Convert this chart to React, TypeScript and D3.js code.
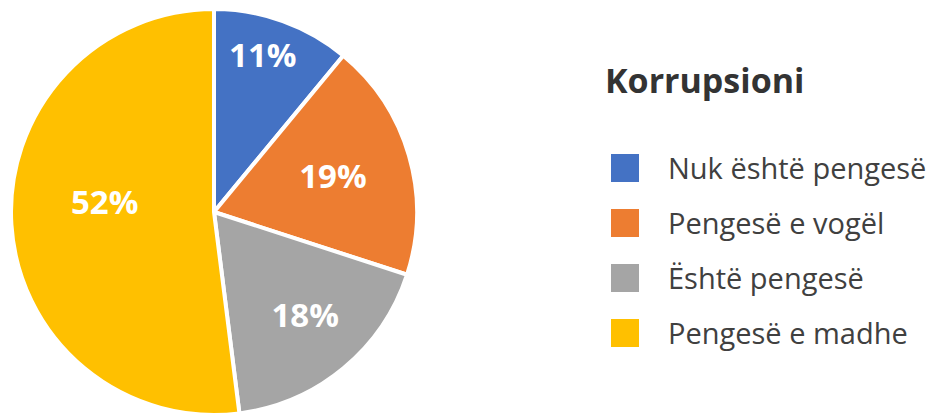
import React, { useEffect, useRef } from 'react';
import * as d3 from 'd3';

// chart data
const categories = ['Nuk është pengesë', 'Pengesë e vogël', 'Është pengesë', 'Pengesë e madhe'];
const values = [11, 19, 18, 52];
const colors = ['#4472C4', '#ED7D31', '#A5A5A5', '#FFC000'];
const title = 'Korrupsioni';

// "best fit" label nudges (fraction of radius) like the spreadsheet does
const labelNudge = [[0.02, -0.16], [-0.038, 0.004], [0.035, 0.005], [0.11, -0.09]];

const W = 932, H = 417;

function App() {
  const ref = useRef<SVGSVGElement>(null);

  useEffect(() => {
    const svg = d3.select(ref.current);
    svg.selectAll('*').remove();

    const cx = 214, cy = 212, r = 203;
    const pie = d3.pie<number>().sort(null).value(d => d);
    const arcs = pie(values);
    const arc = d3.arc<d3.PieArcDatum<number>>().innerRadius(0).outerRadius(r);
    const labelArc = d3.arc<d3.PieArcDatum<number>>().innerRadius(r * 0.65).outerRadius(r * 0.65);

    const g = svg.append('g').attr('transform', `translate(${cx},${cy})`);

    g.selectAll('path')
      .data(arcs)
      .enter()
      .append('path')
      .attr('d', arc)
      .attr('fill', (d, i) => colors[i])
      .attr('stroke', '#fff')
      .attr('stroke-width', 4)
      .attr('stroke-linejoin', 'round');

    g.selectAll('text.lbl')
      .data(arcs)
      .enter()
      .append('text')
      .attr('class', 'lbl')
      .attr('x', (d, i) => labelArc.centroid(d)[0] + labelNudge[i][0] * r)
      .attr('y', (d, i) => labelArc.centroid(d)[1] + labelNudge[i][1] * r + 12)
      .attr('text-anchor', 'middle')
      .style('font-family', '"Open Sans", sans-serif')
      .style('font-weight', 'bold')
      .style('font-size', '33px')
      .style('fill', '#fff')
      .text(d => d.value + '%');

    // legend
    svg.append('text')
      .attr('x', 605)
      .attr('y', 93)
      .style('font-family', '"Open Sans", sans-serif')
      .style('font-weight', 'bold')
      .style('font-size', '34px')
      .style('fill', '#333')
      .text(title);

    const rowY = d3.scalePoint<string>().domain(categories).range([168, 333]);

    const leg = svg.append('g')
      .selectAll('g')
      .data(categories)
      .enter()
      .append('g')
      .attr('transform', d => `translate(611,${rowY(d)})`);

    leg.append('rect')
      .attr('x', 0)
      .attr('y', -14)
      .attr('width', 28)
      .attr('height', 28)
      .attr('fill', (d, i) => colors[i]);

    leg.append('text')
      .attr('x', 57)
      .attr('y', 10.5)
      .style('font-family', '"Open Sans", sans-serif')
      .style('font-size', '29px')
      .style('fill', '#404040')
      .text(d => d);
  }, []);

  return (
    <svg ref={ref} width={W} height={H}
      style={{ position: 'absolute', left: 0, top: 0, background: '#fff' }} />
  );
}

export default App;
